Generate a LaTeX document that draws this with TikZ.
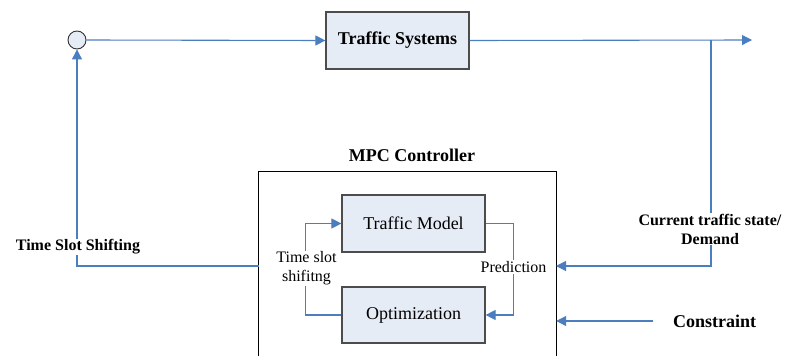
\documentclass[tikz,border=0pt]{standalone}
\usepackage{fontspec}
\setmainfont{Liberation Serif}[BoldFont={Liberation Serif Bold}]
\usetikzlibrary{arrows.meta}
\definecolor{boxfill}{HTML}{E6ECF6}
\definecolor{linkblue}{HTML}{4A7EBF}
\begin{document}
\begin{tikzpicture}[x=1pt,y=-1pt,
  blk/.style={draw=black!70,line width=1.2pt,fill=boxfill,minimum width=143pt,minimum height=57pt,inner sep=0pt},
  link/.style={draw=linkblue,line width=1.1pt},
  arr/.style={link,-{Triangle[length=10pt,width=10pt]}},
  lbl/.style={fill=white,inner sep=1pt,align=center},
  big/.style={font=\fontsize{18}{20}\selectfont},
  small/.style={font=\fontsize{16}{19}\selectfont}]
\useasboundingbox (0,0) rectangle (786,356);
% nodes
\node[circle,draw=black!80,line width=0.9pt,fill=boxfill,minimum size=18pt,inner sep=0pt] (sum) at (77,40) {};
\node[blk,big] (ts) at (397.5,40.5) {\textbf{Traffic Systems}};
\node[minimum width=297pt,minimum height=184pt,inner sep=0pt] (mpc) at (407.5,264) {};
\draw[black,line width=0.9pt] (mpc.south west) |- (mpc.north east) -- (mpc.south east);
\node[big] (mpclbl) at (412,155) {\textbf{MPC Controller}};
\node[blk,big] (tm) at (413.5,223.5) {Traffic Model};
\node[blk,big,minimum height=56pt] (opt) at (413.5,315) {Optimization};
\coordinate (out) at (752,40);
\coordinate (tap) at (711,40);
\coordinate (fbin) at (556,266);
\coordinate (fbout) at (259,266);
% connectors
\draw[arr] (sum.east) -- (ts.west);
\draw[arr] (ts.east) -- (out);
\draw[arr] (tap) |- (fbin);
\draw[arr] (fbout) -| (sum.south);
\draw[arr] (tm.east) -| ++(28,0) |- (opt.east);
\draw[arr] (opt.west) -| ++(-36,0) |- (tm.west);
\node[big] (con) at (714.5,321) {\textbf{Constraint}};
\draw[arr] ([xshift=-16pt]con.west) -- (con.west -| mpc.east);
% labels
\node[lbl,small] (cur) at (710,229) {\textbf{Current traffic state/}\\\textbf{Demand}};
\node[lbl,small] (pred) at (513.5,267) {Prediction};
\node[lbl,small] (tss) at (306.5,268.5) {Time slot\\shifitng};
\node[lbl,small] (fbl) at (78,247) {\textbf{Time Slot Shifting}};
\end{tikzpicture}
\end{document}
